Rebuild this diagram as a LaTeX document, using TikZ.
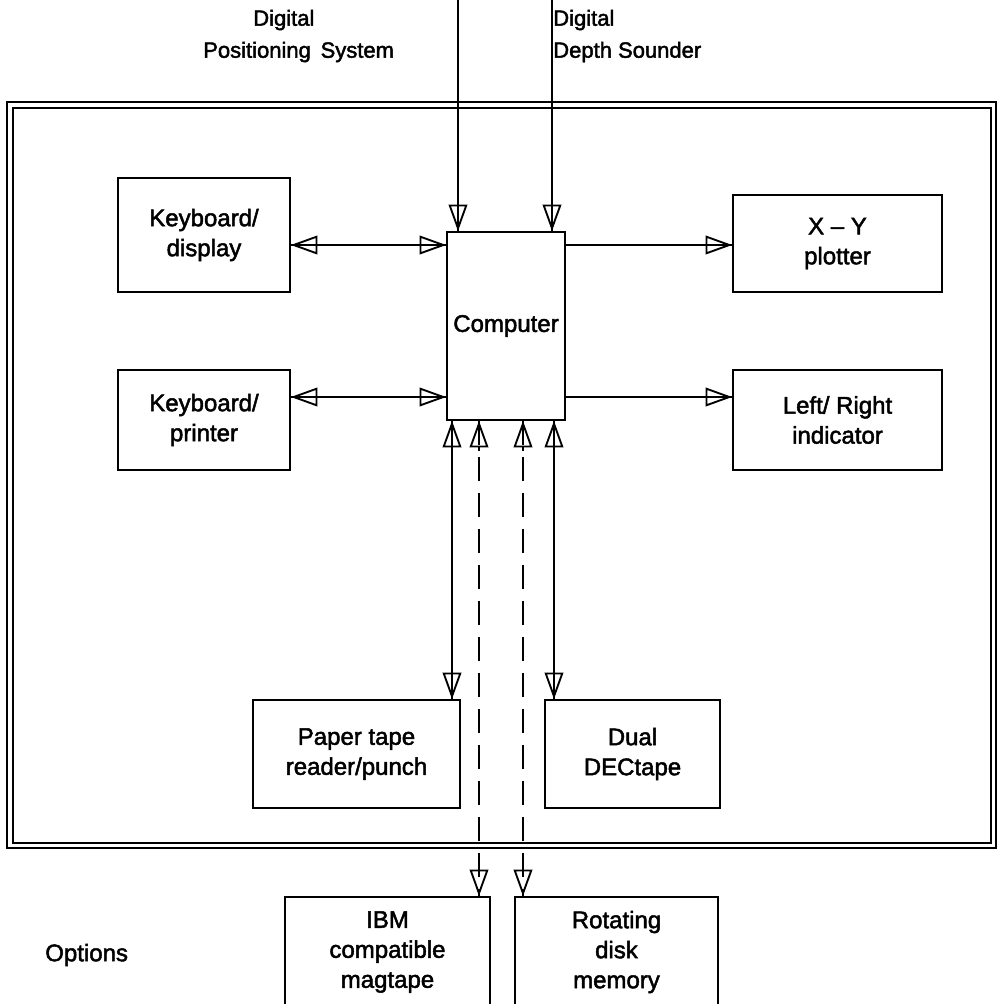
\documentclass[tikz,border=0pt]{standalone}
\usepackage{fontspec}
\setmainfont{Liberation Sans}[BoldFont={Liberation Sans},BoldFeatures={FakeBold=2}]
\usetikzlibrary{arrows.meta,calc}
\begin{document}
\begin{tikzpicture}[x=0.75pt,y=-0.75pt,
  txt/.style={font=\fontsize{18}{22.5}\selectfont\bfseries},
  box/.style={draw,line width=1.2pt,inner sep=0pt,align=center,txt},
  lbl/.style={inner sep=0pt,align=left,txt},
  toplbl/.style={lbl,font=\fontsize{16.5}{22.5}\selectfont\bfseries},
  conn/.style={line width=0.9pt},
  dline/.style={conn,dash pattern=on 18pt off 9pt},
  >={Triangle[open,length=20pt,width=14pt,line width=1.4pt]},
  frame/.style={line width=1.4pt}
]
\useasboundingbox (0,0) rectangle (997,1004);
% frame
\draw[frame] (7,102) rectangle (996,848);
\draw[frame] (13,108) rectangle (991,843);
% boxes
\node[box,minimum width=129pt,minimum height=85.5pt] (kd) at (204,235) {Keyboard/\\display};
\node[box,minimum width=129pt,minimum height=75pt] (kp) at (204,420) {Keyboard/\\printer};
\node[box,minimum width=88.5pt,minimum height=141pt] (comp) at (506,326) {Computer};
\node[box,minimum width=156.75pt,minimum height=72.75pt] (xy) at (837.5,243.5) {X -- Y\\plotter};
\node[box,minimum width=156.75pt,minimum height=75pt] (lr) at (837.5,420) {Left/ Right\\indicator};
\node[box,minimum width=155.25pt,minimum height=81pt] (pt) at (356.5,754) {Paper tape\\reader/punch};
\node[box,minimum width=131.25pt,minimum height=81pt] (dec) at (632.5,754) {Dual\\DECtape};
\node[box,minimum width=153.75pt,minimum height=82.5pt] (ibm) at (387.5,952) {IBM\\compatible\\magtape};
\node[box,minimum width=152.25pt,minimum height=82.5pt] (disk) at (616.5,952) {Rotating\\disk\\memory};
\node[lbl,anchor=west] (opt) at (45,955) {Options};
% top labels
\node[toplbl,anchor=west] (dps1) at (253,20) {Digital};
\node[toplbl,anchor=west] (dps2) at (203,52) {Positioning\, System};
\node[toplbl,anchor=west] (dds1) at (553,20) {Digital};
\node[toplbl,anchor=west] (dds2) at (553,52) {Depth Sounder};
\coordinate (in1) at (458,0);
\coordinate (in2) at (552,0);
% top inputs
\draw[conn] (in1) -- (in1 |- comp.north);
\draw[conn,->] (in1) -- (in1 |- comp.north);
\draw[conn] (in2) -- (in2 |- comp.north);
\draw[conn,->] (in2) -- (in2 |- comp.north);
% left side
\draw[conn] (kd.east |- 0,245) -- (comp.west |- 0,245);
\draw[conn,<->] (kd.east |- 0,245) -- (comp.west |- 0,245);
\draw[conn] (kp.east |- 0,397) -- (comp.west |- 0,397);
\draw[conn,<->] (kp.east |- 0,397) -- (comp.west |- 0,397);
% right side
\draw[conn] (comp.east |- 0,245) -- (xy.west |- 0,245);
\draw[conn,->] (comp.east |- 0,245) -- (xy.west |- 0,245);
\draw[conn] (comp.east |- 0,397) -- (lr.west |- 0,397);
\draw[conn,->] (comp.east |- 0,397) -- (lr.west |- 0,397);
% bottom solid
\draw[conn] (comp.south -| 452,0) -- (pt.north -| 452,0);
\draw[conn,<->] (comp.south -| 452,0) -- (pt.north -| 452,0);
\draw[conn] (comp.south -| 554,0) -- (dec.north -| 554,0);
\draw[conn,<->] (comp.south -| 554,0) -- (dec.north -| 554,0);
% bottom dashed
\draw[dline] (comp.south -| 479,0) -- (ibm.north -| 479,0);
\draw[conn,<-] (comp.south -| 479,0) -- ($(comp.south -| 479,0)+(0,30)$);
\draw[conn,->] ($(ibm.north -| 479,0)+(0,-30)$) -- (ibm.north -| 479,0);
\draw[dline] (comp.south -| 523,0) -- (disk.north -| 523,0);
\draw[conn,<-] (comp.south -| 523,0) -- ($(comp.south -| 523,0)+(0,30)$);
\draw[conn,->] ($(disk.north -| 523,0)+(0,-30)$) -- (disk.north -| 523,0);
\end{tikzpicture}
\end{document}
